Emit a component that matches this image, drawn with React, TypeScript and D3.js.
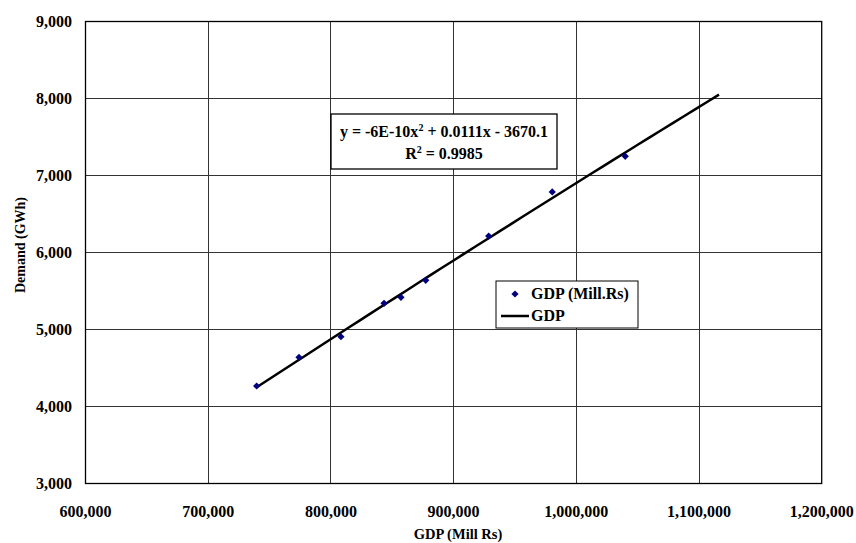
import React, { useRef, useEffect } from 'react';
import * as d3 from 'd3';

const GDP: number[] = [739500, 774000, 808200, 843300, 857100, 877300, 928600, 980400, 1039900];
const DEMAND: number[] = [4266, 4639, 4906, 5340, 5418, 5639, 6214, 6786, 7249];
const X_TICKS: number[] = [600000, 700000, 800000, 900000, 1000000, 1100000, 1200000];
const Y_TICKS: number[] = [3000, 4000, 5000, 6000, 7000, 8000, 9000];
const TREND_END = 1116300; // forward forecast of the trendline
const EQ_LINE = 'y = -6E-10x';
const EQ_REST = ' + 0.0111x - 3670.1';
const R2_VALUE = ' = 0.9985';

const FONT = '"Liberation Serif", "Times New Roman", serif';

// least squares quadratic, same as the spreadsheet's polynomial trendline
function quadFit(xs: number[], ys: number[]) {
  const s = 1e6;
  const u = xs.map(v => v / s);
  const sum = (f: (i: number) => number) => d3.sum(u, (_, i) => f(i));
  const n = u.length;
  const s1 = sum(i => u[i]), s2 = sum(i => u[i] ** 2), s3 = sum(i => u[i] ** 3), s4 = sum(i => u[i] ** 4);
  const t0 = sum(i => ys[i]), t1 = sum(i => u[i] * ys[i]), t2 = sum(i => u[i] ** 2 * ys[i]);
  const A = [[n, s1, s2, t0], [s1, s2, s3, t1], [s2, s3, s4, t2]];
  for (let c = 0; c < 3; c++) {
    for (let r = c + 1; r < 3; r++) {
      const k = A[r][c] / A[c][c];
      for (let j = c; j < 4; j++) A[r][j] -= k * A[c][j];
    }
  }
  const b = [0, 0, 0];
  for (let r = 2; r >= 0; r--) {
    let v = A[r][3];
    for (let j = r + 1; j < 3; j++) v -= A[r][j] * b[j];
    b[r] = v / A[r][r];
  }
  return (x: number) => b[0] + b[1] * (x / s) + b[2] * (x / s) ** 2;
}

const App: React.FC = () => {
  const svgRef = useRef<SVGSVGElement>(null);

  useEffect(() => {
    if (!svgRef.current) return;
    const svg = d3.select(svgRef.current);
    svg.selectAll('*').remove();

    const left = 85.5, right = 821.7, top = 21.5, bottom = 483.5;
    const x = d3.scaleLinear().domain([600000, 1200000]).range([left, right]);
    const y = d3.scaleLinear().domain([3000, 9000]).range([bottom, top]);
    const fmt = d3.format(',');

    svg.append('rect').attr('width', 856).attr('height', 543).attr('fill', '#fff');

    // grid
    const grid = svg.append('g').attr('stroke', '#333').attr('stroke-width', 1).attr('shape-rendering', 'crispEdges');
    grid.selectAll('line.gx').data(X_TICKS.slice(1, -1)).join('line')
      .attr('x1', d => x(d)).attr('x2', d => x(d)).attr('y1', top).attr('y2', bottom);
    grid.selectAll('line.gy').data(Y_TICKS.slice(1, -1)).join('line')
      .attr('x1', left).attr('x2', right).attr('y1', d => y(d)).attr('y2', d => y(d));

    svg.append('rect')
      .attr('x', left).attr('y', top).attr('width', right - left).attr('height', bottom - top)
      .attr('fill', 'none').attr('stroke', '#000').attr('stroke-width', 1.3);

    // tick labels
    svg.append('g').selectAll('text').data(Y_TICKS).join('text')
      .attr('x', 72).attr('y', d => y(d) + 5)
      .attr('text-anchor', 'end')
      .attr('font-family', FONT).attr('font-weight', 'bold').attr('font-size', 16)
      .text(d => fmt(d));
    svg.append('g').selectAll('text').data(X_TICKS).join('text')
      .attr('x', d => x(d)).attr('y', 517)
      .attr('text-anchor', 'middle')
      .attr('font-family', FONT).attr('font-weight', 'bold').attr('font-size', 16)
      .text(d => fmt(d));

    // axis titles
    svg.append('text')
      .attr('x', 458).attr('y', 539).attr('text-anchor', 'middle')
      .attr('font-family', FONT).attr('font-weight', 'bold').attr('font-size', 14.5)
      .text('GDP (Mill Rs)');
    svg.append('text')
      .attr('transform', 'translate(25,245) rotate(-90)')
      .attr('text-anchor', 'middle')
      .attr('font-family', FONT).attr('font-weight', 'bold').attr('font-size', 14)
      .text('Demand (GWh)');

    // trendline
    const fit = quadFit(GDP, DEMAND);
    const xs = d3.range(0, 41).map(i => GDP[0] + (TREND_END - GDP[0]) * i / 40);
    svg.append('path')
      .datum(xs)
      .attr('d', d3.line<number>().x(d => x(d)).y(d => y(fit(d))))
      .attr('fill', 'none').attr('stroke', '#000').attr('stroke-width', 2.5);

    // points: square turned 45deg, as the spreadsheet draws its diamond
    const diamond = d3.symbol().type(d3.symbolSquare).size(26);
    svg.append('g').selectAll('path').data(GDP).join('path')
      .attr('transform', (d, i) => `translate(${x(d)},${y(DEMAND[i])}) rotate(45)`)
      .attr('d', diamond)
      .attr('fill', '#000080');

    // equation box
    const eq = svg.append('g');
    eq.append('rect').attr('x', 331).attr('y', 114).attr('width', 226).attr('height', 55)
      .attr('fill', '#fff').attr('stroke', '#000').attr('stroke-width', 1.3);
    const l1 = eq.append('text').attr('x', 444).attr('y', 137).attr('text-anchor', 'middle')
      .attr('font-family', FONT).attr('font-weight', 'bold').attr('font-size', 16);
    l1.append('tspan').text(EQ_LINE);
    l1.append('tspan').attr('dy', -6).attr('font-size', 10).text('2');
    l1.append('tspan').attr('dy', 6).text(EQ_REST);
    const l2 = eq.append('text').attr('x', 444).attr('y', 159).attr('text-anchor', 'middle')
      .attr('font-family', FONT).attr('font-weight', 'bold').attr('font-size', 16);
    l2.append('tspan').text('R');
    l2.append('tspan').attr('dy', -6).attr('font-size', 10).text('2');
    l2.append('tspan').attr('dy', 6).text(R2_VALUE);

    // legend
    const lg = svg.append('g');
    lg.append('rect').attr('x', 496).attr('y', 281).attr('width', 142).attr('height', 47)
      .attr('fill', '#fff').attr('stroke', '#000').attr('stroke-width', 1);
    lg.append('path').attr('transform', 'translate(515,294) rotate(45)').attr('d', diamond).attr('fill', '#000080');
    lg.append('text').attr('x', 531).attr('y', 299)
      .attr('font-family', FONT).attr('font-weight', 'bold').attr('font-size', 16).text('GDP (Mill.Rs)');
    lg.append('line').attr('x1', 501).attr('x2', 529).attr('y1', 316).attr('y2', 316)
      .attr('stroke', '#000').attr('stroke-width', 2.5);
    lg.append('text').attr('x', 531).attr('y', 321)
      .attr('font-family', FONT).attr('font-weight', 'bold').attr('font-size', 16).text('GDP');
  }, []);

  return (
    <svg ref={svgRef} width={856} height={543}
      style={{ position: 'absolute', left: 0, top: 0, display: 'block' }} />
  );
};

export default App;
